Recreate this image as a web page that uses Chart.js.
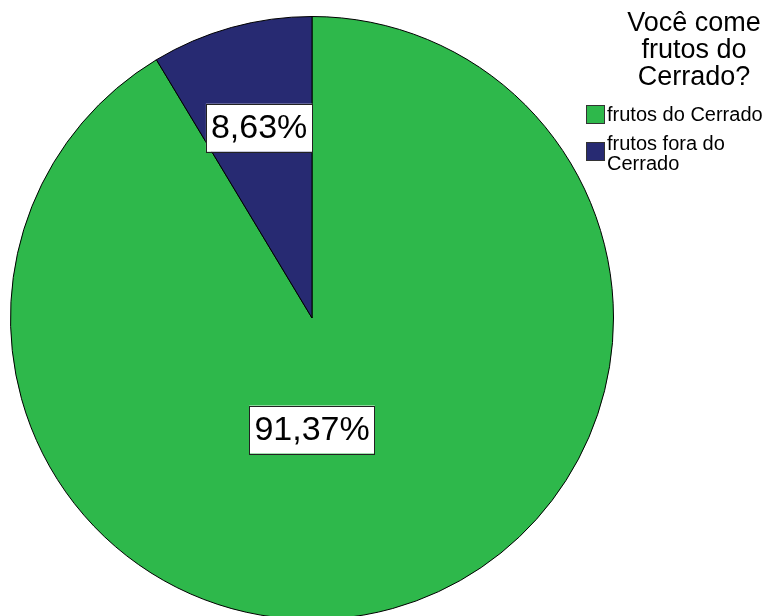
<!DOCTYPE html>
<html>
<head>
<meta charset="utf-8">
<script src="https://cdn.jsdelivr.net/npm/chart.js@4"></script>
<style>
  html, body { margin: 0; padding: 0; background: #fff; }
  #wrap { width: 770px; height: 616px; overflow: hidden; }
</style>
</head>
<body>
<div id="wrap"><canvas id="chart_frutosCerrado" width="770" height="640"></canvas></div>
<script>
// data
var categories = ['frutos do Cerrado', ['frutos fora do', 'Cerrado']];
var percentages = [91.37, 8.63];
var sliceColors = ['#2eb84b', '#272a72'];
var legendTitle = ['Você come', 'frutos do', 'Cerrado?'];

function formatPct(v) {
    return v.toFixed(2).replace('.', ',') + '%';
}

var chart_frutosCerrado = new Chart(document.getElementById('chart_frutosCerrado'), {
    type: 'pie',
    data: {
        labels: categories,
        datasets: [{
            data: percentages,
            backgroundColor: sliceColors,
            borderColor: '#000',
            borderWidth: 1
        }]
    },
    options: {
        animation: false,
        responsive: false,
        layout: {
            padding: { left: 10, right: 156, top: 16, bottom: 20 }
        },
        plugins: {
            legend: { display: false },
            tooltip: { enabled: false },
            sliceLabels: {
                // angle offset (deg) from mid angle, radius fraction
                place: [{ shift: 15.5, r: 0.37 }, { shift: 0, r: 0.655 }]
            }
        }
    },
    plugins: [{
        id: 'sliceLabels',
        afterDatasetsDraw: function(chart, args, options) {
            var ctx = chart.ctx;
            var meta = chart.getDatasetMeta(0);
            ctx.save();
            ctx.font = '34px "Liberation Sans", Arial, sans-serif';
            ctx.textAlign = 'center';
            ctx.textBaseline = 'middle';
            meta.data.forEach(function(arc, i) {
                var p = options.place[i];
                var mid = (arc.startAngle + arc.endAngle) / 2 + p.shift * Math.PI / 180;
                var r = arc.outerRadius * p.r;
                var x = arc.x + Math.cos(mid) * r;
                var y = arc.y + Math.sin(mid) * r;
                var txt = formatPct(chart.data.datasets[0].data[i]);
                var w = ctx.measureText(txt).width + 10;
                var h = 48;
                ctx.fillStyle = '#fff';
                ctx.fillRect(x - w / 2, y - h / 2, w, h);
                ctx.strokeStyle = '#222';
                ctx.lineWidth = 1;
                ctx.strokeRect(Math.round(x - w / 2) + 0.5, Math.round(y - h / 2) + 0.5, Math.round(w), h);
                ctx.fillStyle = '#000';
                ctx.fillText(txt, x, y + 1);
            });
            ctx.restore();
        }
    }, {
        id: 'sideLegend',
        afterDraw: function(chart) {
            var ctx = chart.ctx;
            ctx.save();
            ctx.fillStyle = '#000';
            ctx.textAlign = 'center';
            ctx.textBaseline = 'middle';
            ctx.font = '27px "Liberation Sans", Arial, sans-serif';
            legendTitle.forEach(function(line, i) {
                ctx.fillText(line, 694, 24 + i * 27);
            });
            ctx.textAlign = 'left';
            ctx.font = '20px "Liberation Sans", Arial, sans-serif';
            var y = 105;
            chart.data.labels.forEach(function(lab, i) {
                var lines = Array.isArray(lab) ? lab : [lab];
                ctx.fillStyle = sliceColors[i];
                ctx.fillRect(586, y, 19, 19);
                ctx.strokeStyle = '#333';
                ctx.lineWidth = 1;
                ctx.strokeRect(586.5, y + 0.5, 18, 18);
                ctx.fillStyle = '#000';
                lines.forEach(function(t, j) {
                    ctx.fillText(t, 607, y + 10 - (lines.length > 1 ? 8 : 0) + j * 20);
                });
                y += 37;
            });
            ctx.restore();
        }
    }]
});
</script>
</body>
</html>
